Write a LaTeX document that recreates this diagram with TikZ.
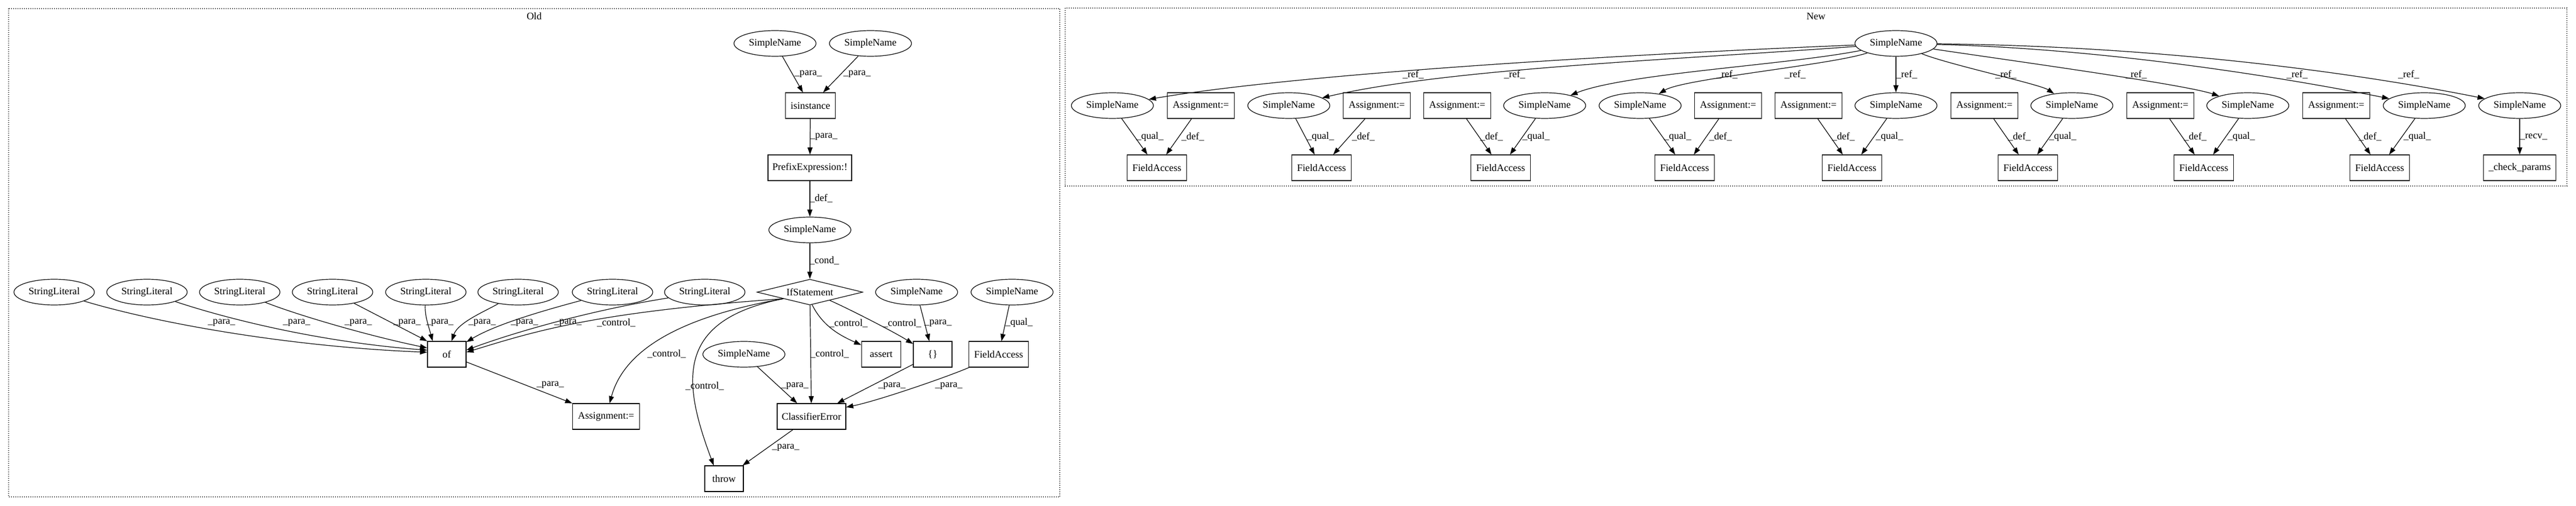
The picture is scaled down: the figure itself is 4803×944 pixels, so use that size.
\documentclass[tikz,border=0pt]{standalone}
\usepackage{fontspec}
\setmainfont{Liberation Serif}
\usetikzlibrary{shapes.geometric,arrows.meta}
\begin{document}
\begin{tikzpicture}[x=0.75pt,y=-0.75pt,line width=0.9pt,>={Triangle[length=10pt,width=7pt]},font=\fontsize{14}{17}\selectfont,
	oval/.style={ellipse,draw,minimum height=36pt,inner xsep=4pt,inner ysep=0pt},
	box/.style={rectangle,draw,minimum height=36pt,minimum width=#1,inner sep=0pt},
	box/.default=54pt,
	decide/.style={diamond,draw,aspect=4.1,inner sep=0pt,minimum width=148pt,minimum height=36pt},
	lbl/.style={inner sep=1pt},
	clus/.style={draw,dash pattern=on 1pt off 2pt}]
	\useasboundingbox (0,0) rectangle (4803,944);
	% clusters
	\draw[clus] (16,16) rectangle (1976,927);
	\node (oldlbl) at (996,30) {Old};
	\draw[clus] (1986,15) rectangle (4786,347);
	\node (newlbl) at (3386,30) {New};
	% Old
	\node[oval] (p1) at (1445,81) {SimpleName};
	\node[oval] (p2) at (1623,81) {SimpleName};
	\node[box=70pt] (isinst) at (1511,197) {isinstance};
	\node[box=117pt] (prefix) at (1510,313) {PrefixExpression:!};
	\node[oval] (cnd) at (1510,429) {SimpleName};
	\node[decide] (ifs) at (1510,545) {IfStatement};
	\node[oval] (sl1) at (101,545) {StringLiteral};
	\node[oval] (sl2) at (274,545) {StringLiteral};
	\node[oval] (sl3) at (447,545) {StringLiteral};
	\node[oval] (sl4) at (620,545) {StringLiteral};
	\node[oval] (sl5) at (794,545) {StringLiteral};
	\node[oval] (sl6) at (966,545) {StringLiteral};
	\node[oval] (sl7) at (1142,545) {StringLiteral};
	\node[oval] (sl8) at (1314,545) {StringLiteral};
	\node[oval] (sn3) at (1709,545) {SimpleName};
	\node[oval] (sn4) at (1887,545) {SimpleName};
	\node[box] (ofn) at (833,661) {of};
	\node[oval] (sn5) at (1387,661) {SimpleName};
	\node[box=55pt] (assrt) at (1643,661) {assert};
	\node[box] (brace) at (1739,661) {\{\}};
	\node[box=83pt] (ofa) at (1862,661) {FieldAccess};
	\node[box=94pt] (asg) at (1130,777) {Assignment:=};
	\node[box=96pt] (clerr) at (1513,777) {ClassifierError};
	\node[box] (thr) at (1350,893) {throw};
	\draw[->] (p1) -- (isinst) node[lbl] at (1507,138) {\_para\_};
	\draw[->] (p2) -- (isinst) node[lbl] at (1598,138) {\_para\_};
	\draw[->] (isinst) -- (prefix) node[lbl] at (1536,255) {\_para\_};
	\draw[->] (prefix) -- (cnd) node[lbl] at (1531,370) {\_def\_};
	\draw[->] (cnd) -- (ifs) node[lbl] at (1537,486) {\_cond\_};
	\draw[->] (sl1) .. controls +(200,60) and +(-250,-10) .. (ofn.174) node[lbl] at (413,602) {\_para\_};
	\draw[->] (sl2) .. controls +(150,50) and +(-200,-15) .. (ofn.168) node[lbl] at (553,602) {\_para\_};
	\draw[->] (sl3) .. controls +(100,40) and +(-120,-25) .. (ofn.162) node[lbl] at (668,602) {\_para\_};
	\draw[->] (sl4) -- (ofn.north west) node[lbl] at (759,602) {\_para\_};
	\draw[->] (sl5) .. controls +(-2,45) and +(-8,-30) .. (ofn.137) node[lbl] at (820,602) {\_para\_};
	\draw[->] (sl6) .. controls +(-60,35) and +(12,-35) .. (ofn.70) node[lbl] at (899,602) {\_para\_};
	\draw[->] (sl7) .. controls +(-150,40) and +(50,-30) .. (ofn.32) node[lbl] at (978,602) {\_para\_};
	\draw[->] (sl8) .. controls +(-220,35) and +(80,-30) .. (ofn.12) node[lbl] at (1059,602) {\_para\_};
	\draw[->] (ifs.south west) .. controls +(-350,25) and +(130,-40) .. (ofn.6) node[lbl] at (1149,602) {\_control\_};
	\draw[->] (ifs.south west) .. controls +(-170,30) and +(30,-110) .. (asg.75) node[lbl] at (1243,660) {\_control\_};
	\draw[->] (ifs.south west) .. controls +(-200,40) and +(-60,-160) .. (thr.128) node[lbl] at (1314,720) {\_control\_};
	\draw[->] (ifs) -- (clerr) node[lbl] at (1547,660) {\_control\_};
	\draw[->] (ifs.-80) .. controls +(20,40) and +(-40,-18) .. (assrt.155) node[lbl] at (1582,603) {\_control\_};
	\draw[->] (ifs) .. controls +(60,25) and +(-40,-25) .. (brace.152) node[lbl] at (1682,603) {\_control\_};
	\draw[->] (sn3) -- (brace) node[lbl] at (1749,603) {\_para\_};
	\draw[->] (sn4) -- (ofa) node[lbl] at (1900,602) {\_qual\_};
	\draw[->] (ofn) -- (asg) node[lbl] at (1026,718) {\_para\_};
	\draw[->] (sn5) -- (clerr) node[lbl] at (1482,720) {\_para\_};
	\draw[->] (brace) -- (clerr) node[lbl] at (1663,720) {\_para\_};
	\draw[->] (ofa) .. controls +(-90,40) and +(60,-12) .. (clerr.15) node[lbl] at (1769,720) {\_para\_};
	\draw[->] (clerr) -- (thr) node[lbl] at (1465,835) {\_para\_};
	% New
	\node[oval] (ref0) at (3535,81) {SimpleName};
	\node[oval] (n1) at (2074,197) {SimpleName};
	\node[box=94pt] (as1) at (2239,197) {Assignment:=};
	\node[oval] (n2) at (2403,197) {SimpleName};
	\node[box=94pt] (as2) at (2567,197) {Assignment:=};
	\node[box=94pt] (as3) at (2717,197) {Assignment:=};
	\node[oval] (n3) at (2880,197) {SimpleName};
	\node[oval] (n4) at (3058,197) {SimpleName};
	\node[box=94pt] (as4) at (3222,197) {Assignment:=};
	\node[box=94pt] (as5) at (3372,197) {Assignment:=};
	\node[oval] (n5) at (3535,197) {SimpleName};
	\node[box=94pt] (as6) at (3700,197) {Assignment:=};
	\node[oval] (n6) at (3863,197) {SimpleName};
	\node[box=94pt] (as7) at (4028,197) {Assignment:=};
	\node[oval] (n7) at (4191,197) {SimpleName};
	\node[box=94pt] (as8) at (4356,197) {Assignment:=};
	\node[oval] (n8) at (4520,197) {SimpleName};
	\node[oval] (n9) at (4698,197) {SimpleName};
	\node[box=83pt] (fa1) at (2157,313) {FieldAccess};
	\node[box=83pt] (fa2) at (2464,313) {FieldAccess};
	\node[box=83pt] (fa3) at (2798,313) {FieldAccess};
	\node[box=83pt] (fa4) at (3141,313) {FieldAccess};
	\node[box=83pt] (fa5) at (3453,313) {FieldAccess};
	\node[box=83pt] (fa6) at (3781,313) {FieldAccess};
	\node[box=83pt] (fa7) at (4109,313) {FieldAccess};
	\node[box=83pt] (fa8) at (4437,313) {FieldAccess};
	\node[box=101pt] (chk) at (4698,313) {\_check\_params};
	\draw[->] (ref0) .. controls +(-500,20) and +(350,-60) .. (n1) node[lbl] at (2824,139) {\_ref\_};
	\draw[->] (ref0) .. controls +(-400,30) and +(300,-70) .. (n2) node[lbl] at (2635,139) {\_ref\_};
	\draw[->] (ref0) .. controls +(-200,40) and +(150,-60) .. (n3) node[lbl] at (3220,139) {\_ref\_};
	\draw[->] (ref0) .. controls +(-120,40) and +(80,-50) .. (n4) node[lbl] at (3347,139) {\_ref\_};
	\draw[->] (ref0) -- (n5) node[lbl] at (3555,139) {\_ref\_};
	\draw[->] (ref0) .. controls +(100,40) and +(-60,-40) .. (n6) node[lbl] at (3740,139) {\_ref\_};
	\draw[->] (ref0) .. controls +(200,30) and +(-120,-40) .. (n7) node[lbl] at (3983,139) {\_ref\_};
	\draw[->] (ref0) .. controls +(400,10) and +(-250,-50) .. (n8) node[lbl] at (4283,139) {\_ref\_};
	\draw[->] (ref0) .. controls +(500,5) and +(-300,-60) .. (n9) node[lbl] at (4491,139) {\_ref\_};
	\draw[->] (n1) -- (fa1) node[lbl] at (2144,255) {\_qual\_};
	\draw[->] (as1) -- (fa1) node[lbl] at (2224,255) {\_def\_};
	\draw[->] (n2) -- (fa2) node[lbl] at (2462,255) {\_qual\_};
	\draw[->] (as2) -- (fa2) node[lbl] at (2542,255) {\_def\_};
	\draw[->] (as3) -- (fa3) node[lbl] at (2781,255) {\_def\_};
	\draw[->] (n3) -- (fa3) node[lbl] at (2864,255) {\_qual\_};
	\draw[->] (n4) -- (fa4) node[lbl] at (3128,255) {\_qual\_};
	\draw[->] (as4) -- (fa4) node[lbl] at (3208,255) {\_def\_};
	\draw[->] (as5) -- (fa5) node[lbl] at (3437,255) {\_def\_};
	\draw[->] (n5) -- (fa5) node[lbl] at (3523,255) {\_qual\_};
	\draw[->] (as6) -- (fa6) node[lbl] at (3765,255) {\_def\_};
	\draw[->] (n6) -- (fa6) node[lbl] at (3846,255) {\_qual\_};
	\draw[->] (as7) -- (fa7) node[lbl] at (4093,255) {\_def\_};
	\draw[->] (n7) -- (fa7) node[lbl] at (4179,255) {\_qual\_};
	\draw[->] (as8) -- (fa8) node[lbl] at (4419,255) {\_def\_};
	\draw[->] (n8) -- (fa8) node[lbl] at (4507,255) {\_qual\_};
	\draw[->] (n9) -- (chk) node[lbl] at (4724,255) {\_recv\_};
\end{tikzpicture}
\end{document}
